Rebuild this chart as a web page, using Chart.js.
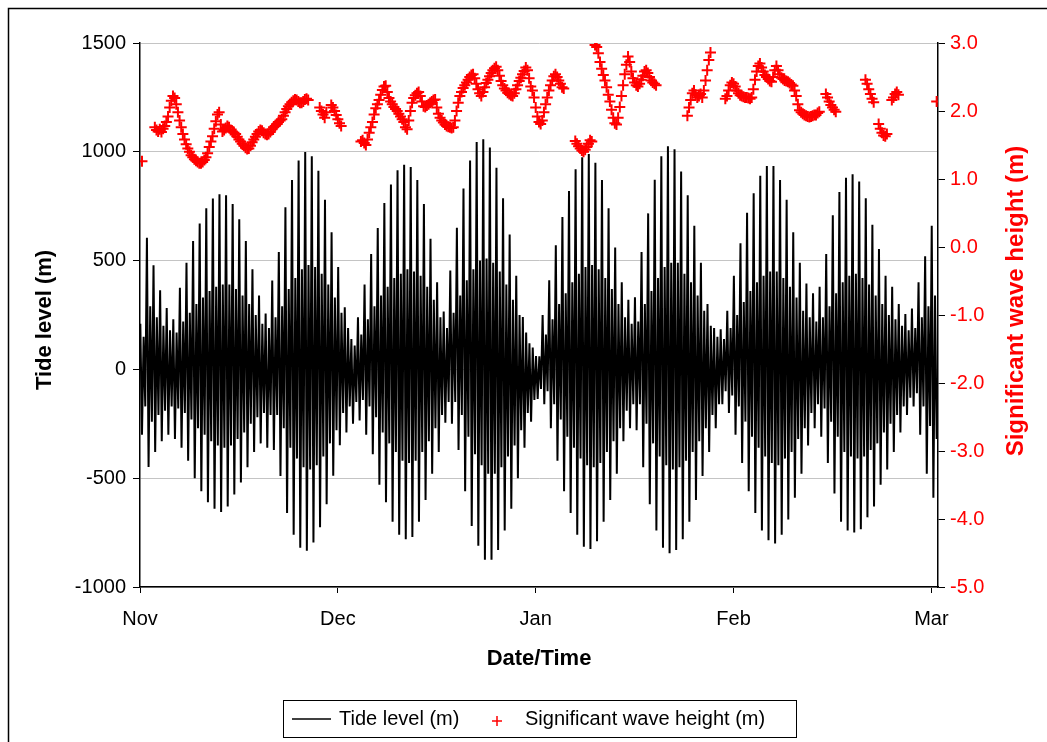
<!DOCTYPE html>
<html><head><meta charset="utf-8">
<script src="https://cdn.jsdelivr.net/npm/chart.js@4.4.1/dist/chart.umd.min.js"></script>
<style>html,body{margin:0;padding:0;background:#fff;}canvas{display:block;}</style>
</head><body>
<canvas id="c" width="1047" height="742"></canvas>
<script>
// ---- axis labels / ticks ----
const monthLabels = ['Nov', 'Dec', 'Jan', 'Feb', 'Mar'];
const monthTickDays = [0, 30, 60, 90, 120];
const tideTicks = [-1000, -500, 0, 500, 1000, 1500];
const waveTicks = [-5, -4, -3, -2, -1, 0, 1, 2, 3];

// ---- tide level: per-day higher high, lower low, lower high, higher low (day 0 = Nov 1) ----
const tideHH = [210,605,479,364,282,230,375,490,590,670,
740,785,805,800,760,690,590,460,340,257,
408,540,745,870,960,999,980,913,780,630,
470,285,140,240,390,530,650,765,850,915,
940,930,870,760,600,400,266,454,651,831,
960,1045,1058,1020,927,786,620,430,241,120,
61,250,410,570,700,820,920,975,990,950,
870,740,560,400,320,331,540,717,872,979,
1025,1012,910,800,660,490,300,190,184,270,
430,580,720,810,890,935,935,870,780,630,
490,395,350,380,530,708,815,881,897,864,
786,665,553,430,380,300,255,280,400,520,
660];
const tideLL = [-300,-448,-380,-330,-300,-320,-360,-420,-500,-560,
-610,-640,-655,-630,-575,-520,-450,-380,-340,-360,
-370,-490,-660,-760,-820,-833,-795,-725,-620,-489,
-349,-290,-250,-235,-300,-390,-530,-610,-700,-760,
-780,-770,-700,-600,-480,-380,-245,-250,-370,-560,
-720,-810,-875,-875,-830,-740,-640,-500,-360,-240,
-136,-160,-270,-420,-560,-660,-760,-815,-825,-790,
-700,-600,-480,-330,-270,-280,-450,-620,-740,-820,
-845,-830,-780,-700,-600,-490,-380,-270,-160,-200,
-300,-430,-560,-660,-740,-785,-800,-760,-690,-590,
-480,-350,-270,-310,-430,-570,-700,-740,-750,-735,
-680,-630,-530,-460,-380,-290,-210,-170,-300,-480,
-590];
const tideLH = [150,290,240,200,180,170,220,260,300,330,
360,380,390,390,370,340,300,250,210,190,
240,290,370,420,460,480,470,440,390,330,
260,190,110,160,230,290,340,380,420,440,
460,450,430,380,320,240,190,260,340,410,
460,500,510,490,450,390,320,250,170,100,
60,160,230,300,350,400,440,470,480,460,
420,370,300,240,210,220,300,360,420,470,
490,490,440,400,340,270,200,150,140,190,
250,310,360,400,430,450,450,420,380,330,
270,240,220,240,290,350,400,430,440,420,
390,340,300,250,230,200,180,190,240,290,
340];
const tideHL = [-170,-240,-210,-190,-170,-180,-200,-230,-270,-300,
-330,-350,-360,-350,-320,-290,-250,-220,-200,-210,
-210,-270,-360,-410,-450,-460,-440,-400,-340,-280,
-200,-170,-150,-140,-170,-220,-290,-340,-380,-420,
-430,-420,-380,-330,-270,-210,-150,-150,-210,-310,
-390,-440,-480,-480,-450,-400,-350,-280,-200,-140,
-90,-100,-160,-230,-310,-360,-410,-440,-450,-430,
-380,-330,-270,-190,-160,-160,-250,-340,-400,-440,
-460,-450,-420,-380,-330,-270,-210,-160,-100,-120,
-170,-240,-310,-360,-400,-430,-440,-410,-380,-320,
-270,-200,-160,-180,-240,-310,-380,-400,-410,-400,
-370,-340,-290,-250,-210,-170,-130,-110,-170,-260,
-320];

// ---- significant wave height: segments of 6-hourly values (start day, values) ----
const WAVE_STEP = 0.25;
const waveSegStart = [0.3, 2.25, 27.25, 29.0, 33.5, 66.0, 69.0, 83.0, 88.75, 104.0, 110.0, 112.0, 114.0, 120.8];
const waveSegValues = [
[1.26],
[1.76,1.72,1.70,1.73,1.69,1.74,1.78,1.84,1.92,2.05,2.15,2.22,2.19,2.10,1.98,1.86,1.76,1.66,1.58,1.51,
 1.45,1.40,1.35,1.32,1.29,1.27,1.25,1.23,1.23,1.25,1.28,1.32,1.38,1.47,1.55,1.63,1.74,1.85,1.95,1.98,
 1.80,1.70,1.72,1.75,1.78,1.76,1.72,1.70,1.68,1.66,1.62,1.58,1.55,1.52,1.49,1.46,1.44,1.45,1.49,1.54,
 1.58,1.62,1.66,1.70,1.72,1.71,1.68,1.66,1.65,1.66,1.69,1.73,1.76,1.78,1.81,1.84,1.86,1.88,1.93,1.98,
 2.03,2.07,2.10,2.13,2.15,2.17,2.16,2.14,2.12,2.12,2.14,2.17,2.18,2.16],
[2.05,2.00,1.95,1.90,1.98],
[2.09,2.05,2.00,1.94,1.88,1.82,1.78],
[1.55,1.57,1.53,1.50,1.58,1.68,1.76,1.84,1.95,2.04,2.10,2.16,2.24,2.31,2.36,2.37,2.28,2.19,2.14,2.10,
 2.06,2.03,2.00,1.96,1.92,1.88,1.84,1.76,1.73,1.86,2.00,2.12,2.19,2.23,2.26,2.28,2.22,2.14,2.07,2.06,
 2.08,2.10,2.12,2.14,2.16,2.17,2.05,1.96,1.90,1.86,1.83,1.80,1.78,1.77,1.76,1.75,1.76,1.86,2.00,2.12,
 2.22,2.28,2.34,2.38,2.42,2.46,2.50,2.53,2.54,2.48,2.40,2.32,2.26,2.22,2.28,2.35,2.41,2.46,2.51,2.56,
 2.60,2.63,2.65,2.60,2.52,2.44,2.38,2.33,2.30,2.27,2.25,2.23,2.22,2.26,2.32,2.38,2.44,2.49,2.54,2.59,
 2.64,2.60,2.48,2.36,2.30,2.20,2.05,1.92,1.84,1.81,1.86,1.98,2.10,2.20,2.30,2.38,2.45,2.51,2.54,2.50,
 2.45,2.40,2.35,2.33],
[1.56,1.52,1.48,1.45,1.42,1.40,1.43,1.47,1.52,1.57,1.55],
[2.97,2.94,2.85,2.72,2.62,2.53,2.45,2.35,2.24,2.14,2.02,1.90,1.82,1.80,1.90,2.06,2.22,2.38,2.54,2.68,
 2.80,2.72,2.58,2.48,2.42,2.38,2.36,2.40,2.46,2.52,2.58,2.60,2.56,2.50,2.45,2.42,2.40,2.38],
[1.93,2.05,2.16,2.26,2.30,2.24,2.20,2.22,2.25,2.20,2.30,2.45,2.60,2.75,2.86],
[2.18,2.22,2.30,2.38,2.42,2.40,2.36,2.30,2.26,2.23,2.22,2.21,2.20,2.20,2.19,2.18,2.20,2.32,2.46,2.58,
 2.66,2.70,2.64,2.58,2.53,2.50,2.47,2.44,2.43,2.50,2.60,2.66,2.60,2.54,2.49,2.47,2.45,2.44,2.43,2.41,
 2.39,2.37,2.30,2.22,2.10,2.01,1.98,1.96,1.94,1.93,1.92,1.91,1.92,1.93,1.94,1.94,1.97,1.99],
[2.25,2.20,2.14,2.09,2.05,2.02,1.99],
[2.46,2.40,2.32,2.25,2.18,2.13],
[1.81,1.74,1.68,1.64,1.63,1.66],
[2.16,2.20,2.25,2.28,2.24],
[2.14]
];

// ---- build library data ----
const tideData = [];
for (let d = 0; d < tideHH.length; d++) {
  tideData.push({x: d + 0.05, y: tideHH[d]}, {x: d + 0.30, y: tideLL[d]},
                {x: d + 0.55, y: tideLH[d]}, {x: d + 0.80, y: tideHL[d]});
}
const waveData = [];
waveSegStart.forEach((s, k) => waveSegValues[k].forEach((v, i) => waveData.push({x: s + i * WAVE_STEP, y: v})));

const FONT = "'Liberation Sans', Arial, Helvetica, sans-serif";
Chart.defaults.font.family = FONT;
Chart.defaults.color = '#000';

const decor = {
  id: 'decor',
  afterDraw(chart) {
    const c = chart.ctx, ca = chart.chartArea;
    c.save();
    // outer chart frame (left & top visible)
    c.strokeStyle = '#000'; c.lineWidth = 1.5;
    c.beginPath(); c.moveTo(8.5, 742); c.lineTo(8.5, 8.5); c.lineTo(1047, 8.5); c.stroke();
    // axis titles
    c.textAlign = 'center'; c.textBaseline = 'middle';
    c.fillStyle = '#000';
    c.font = 'bold 22px ' + FONT;
    c.fillText('Date/Time', (ca.left + ca.right) / 2, 659);
    c.save(); c.translate(45, 320); c.rotate(-Math.PI / 2); c.fillText('Tide level (m)', 0, 0); c.restore();
    c.save(); c.font = 'bold 24px ' + FONT; c.fillStyle = '#ff0000'; c.translate(1016, 301); c.rotate(-Math.PI / 2);
    c.fillText('Significant wave height (m)', 0, 0); c.restore();
    // legend
    c.strokeStyle = '#000'; c.lineWidth = 1;
    c.strokeRect(283.5, 700.5, 513, 37);
    const ly = 719;
    c.lineWidth = 1.5; c.beginPath(); c.moveTo(292, ly); c.lineTo(331, ly); c.stroke();
    c.font = '20px ' + FONT; c.textAlign = 'left'; c.fillStyle = '#000';
    c.fillText(chart.data.datasets[1].label, 339, ly);
    c.strokeStyle = '#ff0000'; c.lineWidth = 1.5;
    c.beginPath(); c.moveTo(492, ly + 2); c.lineTo(502, ly + 2); c.moveTo(497, ly - 3); c.lineTo(497, ly + 7); c.stroke();
    c.fillText(chart.data.datasets[0].label, 525, ly);
    c.restore();
  }
};

new Chart(document.getElementById('c'), {
  type: 'line',
  data: {
    datasets: [
      { label: 'Significant wave height (m)', data: waveData, yAxisID: 'yR', showLine: false,
        pointStyle: 'cross', pointRadius: 5.5, pointBorderColor: '#ff0000', pointBackgroundColor: '#ff0000',
        pointBorderWidth: 2, borderColor: '#ff0000', order: 0 },
      { label: 'Tide level (m)', data: tideData, yAxisID: 'yL', borderColor: '#000', borderWidth: 2,
        pointRadius: 0, tension: 0, fill: false, order: 1 }
    ]
  },
  options: {
    responsive: false, animation: false, events: [],
    layout: { padding: { top: 43, left: 0, right: 0, bottom: 0 } },
    plugins: { legend: { display: false }, tooltip: { enabled: false } },
    scales: {
      x: {
        type: 'linear', position: 'bottom', min: 0, max: 121,
        afterFit: s => { s.height = 155; },
        afterBuildTicks: s => { s.ticks = monthTickDays.map(v => ({ value: v })); },
        ticks: { callback: v => monthLabels[monthTickDays.indexOf(v)], color: '#000', font: { size: 20 },
                 padding: 14, maxRotation: 0, autoSkip: false },
        grid: { drawOnChartArea: false, drawTicks: true, tickLength: 6, color: '#000', tickColor: '#000' },
        border: { display: true, color: '#000', width: 1.5 }
      },
      yL: {
        type: 'linear', position: 'left', min: -1000, max: 1500,
        afterFit: s => { s.width = 140; },
        afterBuildTicks: s => { s.ticks = tideTicks.map(v => ({ value: v })); },
        ticks: { color: '#000', font: { size: 20 }, padding: 7, callback: v => String(v) },
        grid: { color: '#c4c4c4', lineWidth: 1, tickColor: '#000', tickLength: 7 },
        border: { display: true, color: '#000', width: 1.5 }
      },
      yR: {
        type: 'linear', position: 'right', min: -5, max: 3,
        afterFit: s => { s.width = 109; },
        afterBuildTicks: s => { s.ticks = waveTicks.map(v => ({ value: v })); },
        ticks: { color: '#ff0000', font: { size: 20 }, padding: 5, callback: v => Number(v).toFixed(1) },
        grid: { drawOnChartArea: false, tickColor: '#000', tickLength: 7 },
        border: { display: true, color: '#000', width: 1.5 }
      }
    }
  },
  plugins: [decor]
});
</script>
</body></html>
